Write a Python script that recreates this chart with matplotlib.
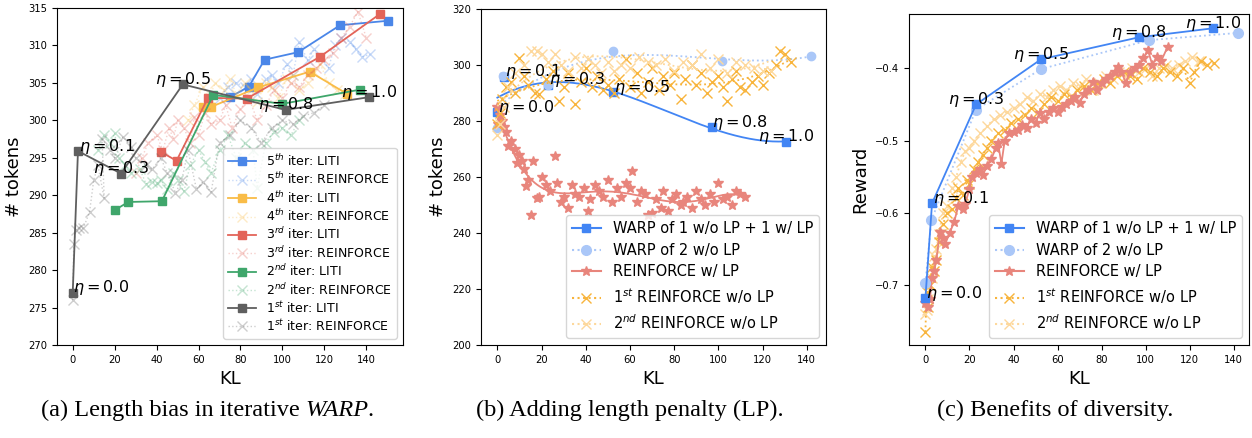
import numpy as np
import matplotlib
matplotlib.use("Agg")
import matplotlib.pyplot as plt

# ---------------- panel (a): iterative WARP ----------------
eta_labels = ["0.0", "0.1", "0.3", "0.5", "0.8", "1.0"]

a_liti_kl = {
  1: [0, 2.5, 23, 52.5, 101.5, 141.5],
  2: [20, 26.5, 42.5, 67, 100, 137],
  3: [42, 49.5, 64.5, 83, 118, 146.5],
  4: [62, 66, 88.5, 113, 131],
  5: [75, 84, 91.5, 107.5, 127.5, 150.5],
}
a_liti_tok = {
  1: [277, 295.9, 292.9, 304.8, 301.4, 303.1],
  2: [288, 289.1, 289.2, 303.4, 302.2, 304.1],
  3: [295.8, 294.6, 303.0, 302.9, 308.5, 314.2],
  4: [301.8, 301.8, 304.4, 306.5, 303.5],
  5: [303.1, 304.5, 308.1, 309.1, 312.7, 313.3],
}

a_rf_kl = {
  1: [0, 0.5, 1.5, 3, 5, 8, 10, 12, 15, 14, 18, 20, 24, 28, 30, 35, 38, 42, 45, 49, 52, 55, 59, 62, 66,
      70, 75, 80, 85, 90, 95, 100, 105, 110, 115, 120],
  2: [12, 15, 18, 20, 22, 25, 28, 32, 35, 38, 40, 42, 45, 48, 50, 53, 56, 60, 63, 66, 70, 74, 78, 82,
      86, 88, 92, 96, 100, 104, 108],
  3: [30, 33, 36, 40, 43, 46, 48, 50, 53, 56, 58, 60, 63, 66, 70, 73, 76, 80, 84, 88, 92, 96, 100,
      104, 108, 112, 116, 120, 124, 128, 132, 136, 140],
  4: [55, 58, 62, 65, 68, 72, 75, 78, 82, 85, 88, 92, 95, 98, 102, 105, 108, 112, 115, 118, 122,
      126, 130],
  5: [70, 74, 78, 82, 85, 88, 92, 95, 98, 102, 105, 108, 112, 115, 118, 122, 125, 128, 132, 135,
      138, 142],
}
a_rf_tok = {
  1: [276, 283.5, 285.4, 285.6, 285.6, 287.7, 292, 294, 289.6, 297.5, 296, 295, 297.8, 296.5, 295,
      294, 293.5, 295, 293, 290.3, 292, 296, 290.8, 291.8, 290.4, 297, 298, 300, 299, 297, 299, 300,
      299.5, 300.6, 301, 302],
  2: [296, 298, 297, 298.3, 295, 294, 293, 293.5, 291.5, 291.8, 291.6, 292, 290.8, 293, 292, 290.5,
      294, 296, 294.5, 293, 296, 298, 295, 297, 296, 291, 297, 298.5, 299, 298, 300],
  3: [293, 295, 297, 298, 296, 299, 297.5, 300, 299, 297, 300.5, 298, 301, 299.5, 300, 302, 299,
      301.5, 303, 300, 302, 304, 303, 305, 304.5, 306, 307, 308, 309, 311, 312.5, 314.5, 311],
  4: [300, 302, 304.5, 303, 305, 304, 305.5, 303.5, 305, 304, 302.5, 305, 304.5, 303, 305.5, 306,
      304, 305, 306.5, 307.5, 305, 304, 303.5],
  5: [303, 304.5, 305, 304.5, 305.5, 303.5, 305.5, 306, 305, 307.5, 306, 310.5, 308, 309.5, 308.5,
      307, 310, 311, 310.5, 309.5, 308.5, 308.8],
}
a_colors = {1: "#5f5f5f", 2: "#3fa66b", 3: "#e36459", 4: "#f9bc47", 5: "#4a86e8"}
a_ord = {1: "st", 2: "nd", 3: "rd", 4: "th", 5: "th"}
a_ha = ["left", "left", "center", "center", "center", "center"]

# ---------------- panel (b) / (c): length penalty / diversity ----------------
warp_kl = [0, 3.0, 23.0, 52.5, 97.0, 130.5]
warp_tok = [283.1, 295.8, 292.9, 290.2, 277.7, 272.6]
warp_rw = [-0.718, -0.587, -0.450, -0.3875, -0.357, -0.3446]

warp2_kl = [0, 2.7, 23.0, 52.5, 101.5, 141.8]
warp2_tok = [277.4, 296.1, 292.9, 305.0, 301.5, 303.2]
warp2_rw = [-0.697, -0.610, -0.457, -0.401, -0.361, -0.351]

b_red_kl = [0, 0.5, 1, 2, 3, 4, 5, 6, 8, 9, 10, 11, 12, 13, 14, 15, 16, 18, 19, 20, 22, 24, 26, 27,
            29, 30, 32, 34, 35, 37, 39, 41, 42, 44, 46, 48, 50, 52, 54, 56, 58, 60, 61, 63, 65, 67,
            68, 70, 72, 74, 75, 77, 79, 81, 83, 84, 86, 88, 90, 92, 94, 96, 98, 100, 102, 104, 106,
            108, 110, 112]
b_red_tok = [285, 279, 282, 280, 278, 276, 271, 273, 270, 264.9, 268, 265.7, 263, 256.8, 258.9,
             246.4, 265.8, 252.4, 252.7, 260, 257, 255, 267.5, 258, 251, 253, 249, 257, 254, 253,
             256, 248, 252, 257, 255, 253, 259, 251, 256, 253, 258, 256, 262, 251, 255, 254, 246.5,
             247, 252, 249, 255, 248, 252, 254, 250, 251, 253, 249, 255, 252, 250, 254, 251, 258,
             252, 253, 250, 255, 254, 253]

b_o1_kl = [0, 1, 2, 4, 6, 8, 10, 12, 14, 17, 19, 22, 25, 28, 30, 32, 35, 38, 40, 43, 45, 48, 50, 53,
           55, 58, 60, 63, 65, 68, 70, 73, 75, 78, 80, 83, 85, 88, 90, 92, 95, 97, 100, 102, 104,
           106, 108, 110, 112, 115, 118, 120, 123, 126, 128, 130, 133]
b_o1_tok = [279, 283, 288, 292, 294, 290, 302.4, 296, 293, 290, 289.5, 295, 298, 287.1, 292, 297,
            286.1, 294, 299, 292, 296, 291, 293, 290, 295, 302, 292, 297, 290, 294, 299, 291, 296,
            293, 297, 288, 295, 300, 293, 297, 290, 294, 296, 292, 287, 295, 298, 292, 291, 294,
            296, 293, 297, 300, 305, 304, 301]

b_o2_kl = [0, 1, 3, 5, 8, 12, 15, 18, 20, 23, 26, 29, 32, 35, 38, 41, 44, 47, 50, 53, 56, 60, 64,
           68, 72, 76, 80, 84, 88, 92, 96, 100, 104, 108, 112, 116, 120, 124]
b_o2_tok = [275, 279, 285, 292, 297, 300, 305, 305, 304, 301, 304, 300, 298, 303, 299, 302, 300,
            297, 301, 298, 300, 299, 303, 301, 300, 302, 298, 301, 300, 304, 299, 302, 297, 301,
            300, 299, 298, 298]

c_red_kl = [0, 1, 2, 3, 4, 5, 6.5, 8, 9, 11, 13, 15, 17, 18, 20, 21, 23, 25, 26, 28, 30, 32, 33,
            34.5, 36, 38, 40, 42, 44, 46, 48, 50, 52, 54, 56, 58, 60, 62, 64, 66, 68, 70, 72, 74,
            76, 78, 80, 82, 84, 86, 87.5, 89, 91, 93, 95, 97, 99, 101, 103, 105, 107, 110]
c_red_rw = [-0.725, -0.73, -0.72, -0.69, -0.68, -0.665, -0.627, -0.635, -0.643, -0.628, -0.613,
            -0.59, -0.595, -0.588, -0.567, -0.55, -0.545, -0.54, -0.548, -0.535, -0.525, -0.51,
            -0.504, -0.532, -0.5, -0.49, -0.488, -0.485, -0.478, -0.482, -0.47, -0.475, -0.462,
            -0.47, -0.46, -0.455, -0.46, -0.453, -0.45, -0.445, -0.44, -0.448, -0.436, -0.43,
            -0.419, -0.43, -0.42, -0.415, -0.41, -0.405, -0.398, -0.405, -0.42, -0.405, -0.4,
            -0.395, -0.386, -0.375, -0.395, -0.385, -0.39, -0.37]

c_o1_kl = [0, 0.5, 1, 2, 3, 4, 5, 6, 7, 8, 10, 12, 14, 15, 17, 19, 20, 22, 24, 26, 28, 30, 33, 36,
           39, 42, 45, 48, 51, 54, 57, 60, 63, 66, 69, 72, 75, 78, 81, 84, 87, 90, 93, 96, 99, 102,
           105, 108, 111, 114, 117, 120, 122, 125, 128, 131]
c_o1_rw = [-0.765, -0.71, -0.73, -0.7, -0.675, -0.68, -0.665, -0.64, -0.63, -0.615, -0.6, -0.595,
           -0.58, -0.565, -0.575, -0.555, -0.56, -0.54, -0.53, -0.52, -0.51, -0.5, -0.49, -0.485,
           -0.475, -0.47, -0.465, -0.455, -0.46, -0.45, -0.44, -0.445, -0.435, -0.44, -0.43,
           -0.425, -0.43, -0.42, -0.415, -0.42, -0.41, -0.405, -0.41, -0.415, -0.4, -0.405, -0.41,
           -0.4, -0.405, -0.41, -0.4, -0.42, -0.405, -0.39, -0.395, -0.393]

c_o2_kl = [0, 0.5, 1, 2, 3, 4, 5, 6, 8, 10, 12, 14, 16, 18, 20, 22, 25, 28, 31, 34, 37, 40, 43, 46,
           49, 52, 55, 58, 61, 64, 67, 70, 73, 76, 79, 82, 85, 88, 91, 94, 97, 100, 103, 106, 109,
           112, 115, 118, 121, 124]
c_o2_rw = [-0.74, -0.735, -0.72, -0.7, -0.69, -0.66, -0.65, -0.63, -0.6, -0.59, -0.565, -0.55,
           -0.53, -0.515, -0.51, -0.5, -0.49, -0.48, -0.47, -0.465, -0.46, -0.455, -0.45, -0.44,
           -0.445, -0.435, -0.44, -0.43, -0.425, -0.43, -0.42, -0.425, -0.415, -0.43, -0.42, -0.41,
           -0.415, -0.405, -0.41, -0.4, -0.405, -0.4, -0.41, -0.4, -0.395, -0.4, -0.395, -0.39,
           -0.385, -0.39]

b_ha = ["left", "left", "left", "left", "left", "center"]
c_ha = ["left", "left", "center", "center", "center", "center"]

blue = "#4285f4"
lblue = "#aac7f8"
red = "#e8857c"
orange = "#f8b43c"
lorange = "#fdd89c"

# caption pieces: (text, italic?)
captions = [
  [("(a) Length bias in iterative ", False), ("WARP", True), (".", False)],
  [("(b) Adding length penalty (LP).", False)],
  [("(c) Benefits of diversity.", False)],
]
caption_x = [207, 630, 1055]


def fit_curve(x, y, deg):
  p = np.polyfit(x, y, deg)
  xs = np.linspace(min(x), max(x), 200)
  return xs, np.polyval(p, xs)


def eta_text(ax, x, y, lab, ha):
  ax.annotate("$\\eta = %s$" % lab, (x, y), xytext=(0.5 if ha == "left" else 0, 3.6),
              textcoords="offset points", fontsize=11.5, ha=ha, va="center")


fig = plt.figure(figsize=(12.52, 4.38), dpi=100)
H = 438.
W = 1252.
def box(l, t, r, b):
  return [l / W, 1 - b / H, (r - l) / W, (b - t) / H]

ax_a = fig.add_axes(box(57, 8, 403, 345))
ax_b = fig.add_axes(box(481, 9, 826, 345))
ax_c = fig.add_axes(box(909, 14, 1249, 345))

### (a)
for it in [5, 4, 3, 2, 1]:
  c = a_colors[it]
  ax_a.plot(a_liti_kl[it], a_liti_tok[it], "-s", color=c, ms=6, lw=1.3,
            label="%d$^{%s}$ iter: LITI" % (it, a_ord[it]))
  ax_a.plot(a_rf_kl[it], a_rf_tok[it], ":x", color=c, ms=7, lw=1.0, alpha=0.3,
            label="%d$^{%s}$ iter: REINFORCE" % (it, a_ord[it]))
for i, lab in enumerate(eta_labels):
  eta_text(ax_a, a_liti_kl[1][i], a_liti_tok[1][i], lab, a_ha[i])
ax_a.set_xlim(-7.5, 157.5)
ax_a.set_ylim(270, 315)
ax_a.set_yticks(np.arange(270, 316, 5))
ax_a.set_xticks(np.arange(0, 141, 20))
ax_a.set_xlabel("KL", fontsize=13)
ax_a.set_ylabel("# tokens", fontsize=13)
ax_a.legend(loc="lower right", fontsize=9, labelspacing=0.2, handlelength=2.2)

### (b)
ax_b.plot(warp_kl, warp_tok, "s", color=blue, ms=6)
xs, ys = fit_curve(warp_kl, warp_tok, 3)
ax_b.plot(xs, ys, "-", color=blue, lw=1.3)
ax_b.plot(warp2_kl, warp2_tok, "o", color=lblue, ms=6)
xs, ys = fit_curve(warp2_kl, warp2_tok, 3)
ax_b.plot(xs, ys, ":", color=lblue, lw=1.3)
ax_b.plot(b_red_kl, b_red_tok, "*", color=red, ms=7)
xs, ys = fit_curve(b_red_kl, b_red_tok, 6)
ax_b.plot(xs, ys, "-", color=red, lw=1.3)
ax_b.plot(b_o1_kl, b_o1_tok, "x", color=orange, ms=7)
xs, ys = fit_curve(b_o1_kl, b_o1_tok, 3)
ax_b.plot(xs, ys, ":", color=orange, lw=1.3)
ax_b.plot(b_o2_kl, b_o2_tok, "x", color=lorange, ms=7)
xs, ys = fit_curve(b_o2_kl, b_o2_tok, 3)
ax_b.plot(xs, ys, ":", color=lorange, lw=1.3)
for i, lab in enumerate(eta_labels):
  eta_text(ax_b, warp_kl[i], warp_tok[i], lab, b_ha[i])
ax_b.plot([], [], "-s", color=blue, ms=6, label="WARP of 1 w/o LP + 1 w/ LP")
ax_b.plot([], [], ":o", color=lblue, ms=7, label="WARP of 2 w/o LP")
ax_b.plot([], [], "-*", color=red, ms=7, label="REINFORCE w/ LP")
ax_b.plot([], [], ":x", color=orange, ms=7, label="1$^{st}$ REINFORCE w/o LP")
ax_b.plot([], [], ":x", color=lorange, ms=7, label="2$^{nd}$ REINFORCE w/o LP")
ax_b.set_xlim(-7.4, 148.7)
ax_b.set_ylim(200, 320)
ax_b.set_xticks(np.arange(0, 141, 20))
ax_b.set_xlabel("KL", fontsize=13)
ax_b.set_ylabel("# tokens", fontsize=13)
ax_b.legend(loc="lower right", fontsize=10.5, labelspacing=0.45)

### (c)
ax_c.plot(c_o2_kl, c_o2_rw, ":x", color=lorange, ms=7, lw=1.3)
ax_c.plot(c_o1_kl, c_o1_rw, ":x", color=orange, ms=7, lw=1.3)
ax_c.plot(c_red_kl, c_red_rw, "-*", color=red, ms=7, lw=1.3)
ax_c.plot(warp2_kl, warp2_rw, ":o", color=lblue, ms=7, lw=1.3)
ax_c.plot(warp_kl, warp_rw, "-s", color=blue, ms=6, lw=1.3)
for i, lab in enumerate(eta_labels):
  eta_text(ax_c, warp_kl[i], warp_rw[i], lab, c_ha[i])
ax_c.plot([], [], "-s", color=blue, ms=6, label="WARP of 1 w/o LP + 1 w/ LP")
ax_c.plot([], [], ":o", color=lblue, ms=7, label="WARP of 2 w/o LP")
ax_c.plot([], [], "-*", color=red, ms=7, label="REINFORCE w/ LP")
ax_c.plot([], [], ":x", color=orange, ms=7, label="1$^{st}$ REINFORCE w/o LP")
ax_c.plot([], [], ":x", color=lorange, ms=7, label="2$^{nd}$ REINFORCE w/o LP")
ax_c.set_xlim(-7.45, 146.9)
ax_c.set_ylim(-0.783, -0.3248)
ax_c.set_yticks([-0.7, -0.6, -0.5, -0.4])
ax_c.set_xticks(np.arange(0, 141, 20))
ax_c.set_xlabel("KL", fontsize=13)
ax_c.set_ylabel("Reward", fontsize=13)
ax_c.legend(loc="lower right", fontsize=10.5, labelspacing=0.45)

for ax in [ax_a, ax_b, ax_c]:
  ax.tick_params(labelsize=7.2)

## captions, with the italic part measured and placed piece by piece
fig.canvas.draw()
rend = fig.canvas.get_renderer()
cap_kw = dict(fontsize=17.5, family="Liberation Serif", va="center")
for xc, parts in zip(caption_x, captions):
  txts = []
  widths = []
  for s, ital in parts:
    t = fig.text(0, 1 - 410 / H, s.rstrip(" "), style="italic" if ital else "normal", **cap_kw)
    w = t.get_window_extent(rend).width
    if s.endswith(" "):
      a1 = fig.text(0, 0, "a a", **cap_kw)
      a2 = fig.text(0, 0, "aa", **cap_kw)
      w += a1.get_window_extent(rend).width - a2.get_window_extent(rend).width
      a1.remove()
      a2.remove()
    if ital:
      w -= 1.5  # italic box includes a bit of overhang
    txts.append(t)
    widths.append(w)
  x = xc - sum(widths) / 2
  for t, w in zip(txts, widths):
    t.set_x(x / W)
    x += w

fig.savefig("out.png", dpi=100)
